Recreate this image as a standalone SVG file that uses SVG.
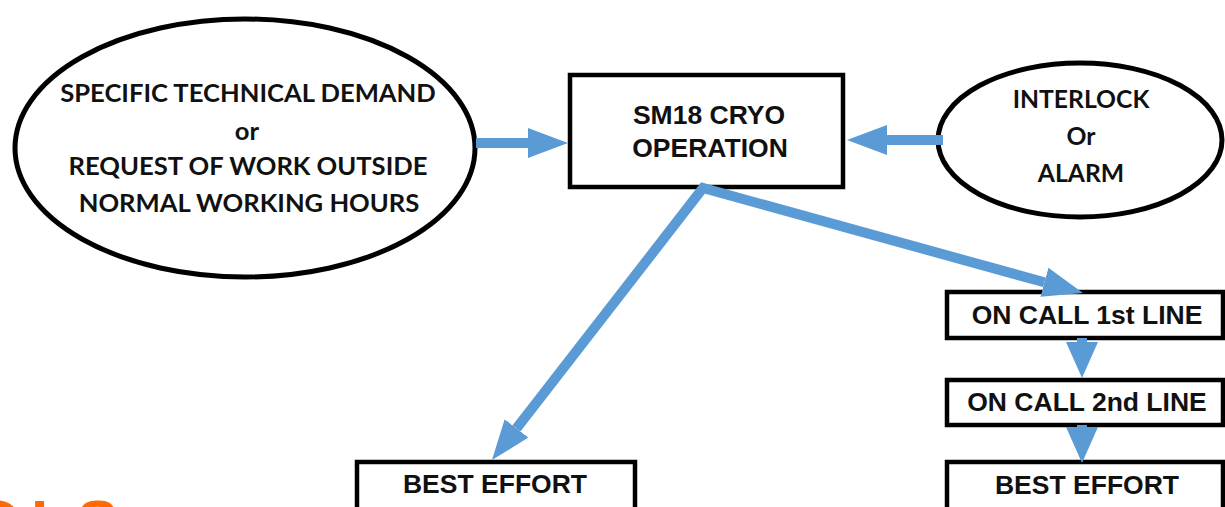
<svg xmlns="http://www.w3.org/2000/svg" width="1225" height="507" viewBox="0 0 1225 507">
<style>
.shape{fill:#fff;stroke:#000;stroke-width:5}
.box{fill:#fff;stroke:#000;stroke-width:4.5}
.et{font-family:Lato,"Open Sans","Liberation Sans",sans-serif;font-weight:bold;font-size:25.6px;fill:#111;text-anchor:middle}
.et2{font-size:24.7px}
.bt{font-family:"Liberation Sans",Arial,sans-serif;font-weight:bold;font-size:26.5px;fill:#111;text-anchor:middle}
.conn{fill:none;stroke:#5B9BD5;stroke-width:10;stroke-linejoin:miter;stroke-linecap:butt}
</style>
<defs>
<marker id="ah" markerUnits="userSpaceOnUse" viewBox="0 -16 40 32" refX="0" refY="0" markerWidth="40" markerHeight="32" orient="auto-start-reverse">
<path d="M0,-15 L40,0 L0,15 z" fill="#5B9BD5"/>
</marker>
<marker id="ahs" markerUnits="userSpaceOnUse" viewBox="0 -16 36 32" refX="0" refY="0" markerWidth="36" markerHeight="32" orient="auto">
<path d="M0,-16 L36,0 L0,16 z" fill="#5B9BD5"/>
</marker>
</defs>
<text x="-27 31 77" y="543" font-family="'Liberation Sans',Arial,sans-serif" font-weight="bold" font-size="62" fill="#FF6A00">OLS</text>
<g id="request">
<ellipse class="shape" cx="245" cy="148" rx="230" ry="129"/>
<text class="et" x="248" y="102">SPECIFIC TECHNICAL DEMAND</text>
<text class="et" x="247" y="140">or</text>
<text class="et" x="248" y="175">REQUEST OF WORK OUTSIDE</text>
<text class="et" x="249" y="212">NORMAL WORKING HOURS</text>
</g>
<g id="cryo">
<rect class="box" x="570" y="75" width="273" height="112"/>
<text class="bt" x="709" y="124">SM18 CRYO</text>
<text class="bt" x="710" y="157">OPERATION</text>
</g>
<g id="interlock">
<ellipse class="shape" cx="1080" cy="140" rx="142" ry="77"/>
<text class="et et2" x="1081" y="108">INTERLOCK</text>
<text class="et et2" x="1081" y="145">Or</text>
<text class="et et2" x="1081" y="182">ALARM</text>
</g>
<g id="oncall1">
<rect class="box" x="947" y="292" width="276" height="46"/>
<text class="bt" x="1087" y="324">ON CALL 1st LINE</text>
</g>
<g id="oncall2">
<rect class="box" x="947" y="380" width="276" height="45"/>
<text class="bt" x="1087" y="411">ON CALL 2nd LINE</text>
</g>
<g id="best-right">
<rect class="box" x="947" y="462" width="276" height="60"/>
<text class="bt" x="1087" y="494">BEST EFFORT</text>
</g>
<g id="best-left">
<rect class="box" x="357" y="462" width="278" height="60"/>
<text class="bt" x="495" y="493">BEST EFFORT</text>
</g>
<g id="connectors">
<path class="conn" d="M476,143 L528,143" marker-end="url(#ah)"/>
<path class="conn" d="M943,140 L887,140" marker-end="url(#ah)"/>
<path class="conn" d="M516.5,428.4 L703,188 L1044.4,282.3" marker-start="url(#ah)" marker-end="url(#ah)"/>
<path class="conn" d="M1082,338 L1082,342" marker-end="url(#ahs)"/>
<path class="conn" d="M1082,425 L1082,427" marker-end="url(#ahs)"/>
</g>
</svg>
